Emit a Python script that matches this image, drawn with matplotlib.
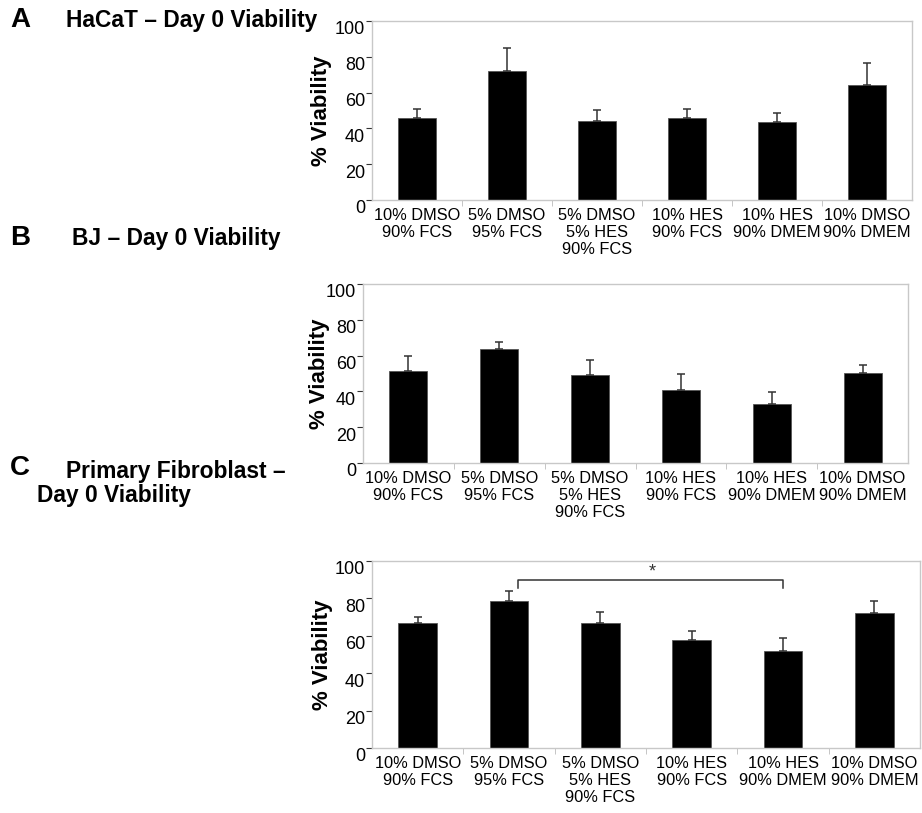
import matplotlib.pyplot as plt
import matplotlib.transforms as mtransforms
import numpy as np

plt.rcParams['font.family'] = ['Liberation Sans', 'DejaVu Sans']

categories = ['10% DMSO\n90% FCS', '5% DMSO\n95% FCS', '5% DMSO\n5% HES\n90% FCS',
              '10% HES\n90% FCS', '10% HES\n90% DMEM', '10% DMSO\n90% DMEM']

# panel A - HaCaT
hacat_mean = [45.6, 71.9, 44.1, 45.6, 43.8, 64.1]
hacat_err = [5.2, 13.0, 6.2, 5.4, 4.8, 12.4]
# panel B - BJ
bj_mean = [51.3, 63.6, 49.4, 41.0, 33.2, 50.0]
bj_err = [8.2, 3.9, 8.2, 8.8, 6.2, 4.5]
# panel C - primary fibroblast
fib_mean = [67.1, 78.8, 67.1, 58.0, 51.8, 72.1]
fib_err = [3.0, 5.4, 5.5, 4.6, 7.1, 6.7]

W, H = 922, 813
fig = plt.figure(figsize=(W / 100, H / 100), dpi=100)


def px_axes(x0, y0, x1, y1):
    return fig.add_axes([x0 / W, 1 - y1 / H, (x1 - x0) / W, (y1 - y0) / H])


def draw_panel(ax, means, errs, ylab_x):
    x = np.arange(len(categories))
    ax.bar(x, means, width=0.42, color='black', edgecolor='#555555', linewidth=0.6, zorder=2)
    ax.errorbar(x, means, yerr=[np.zeros(len(errs)), errs], fmt='none', ecolor='#333333',
                elinewidth=1.1, capsize=3, capthick=1.1, zorder=3)
    ax.set_xlim(-0.5, len(categories) - 0.5)
    ax.set_ylim(0, 100)
    ax.set_yticks([0, 20, 40, 60, 80, 100])
    ax.set_xticks(x)
    ax.set_xticklabels(categories, fontsize=11.8, linespacing=1.15)
    ax.set_xticks(x[:-1] + 0.5, minor=True)
    ax.tick_params(axis='x', which='major', length=0, pad=6)
    ax.tick_params(axis='x', which='minor', length=4, color='#bbbbbb')
    ax.tick_params(axis='y', length=4, color='#333333', labelsize=13, pad=1)
    for s in ax.spines.values():
        s.set_color('#c8c8c8')
        s.set_linewidth(1.0)
    off = mtransforms.ScaledTranslation(0, -5 / 72, fig.dpi_scale_trans)
    for lab in ax.get_yticklabels():
        lab.set_transform(lab.get_transform() + off)
    ax.set_ylabel('% Viability', fontsize=16, fontweight='bold', va='center')
    ax.yaxis.set_label_coords(ylab_x, 0.5)


axA = px_axes(372, 21, 912, 200)
draw_panel(axA, hacat_mean, hacat_err, -0.094)

axB = px_axes(363, 284, 908, 463)
draw_panel(axB, bj_mean, bj_err, -0.079)

axC = px_axes(372, 561, 920, 748)
draw_panel(axC, fib_mean, fib_err, -0.091)

# significance bracket in panel C
axC.plot([1.1, 1.1, 4.0, 4.0], [85.4, 90, 90, 85.4], color='#333333', lw=1.1, zorder=4)
axC.text(2.57, 89.5, '*', ha='center', va='bottom', fontsize=13, color='#333333')

# panel letters and titles
def ftext(x, y, s, size):
    fig.text(x / W, 1 - y / H, s, ha='left', va='center', fontsize=size, fontweight='bold')


ftext(10, 20, 'A', 20)
ftext(66, 21, 'HaCaT – Day 0 Viability', 16.4)
ftext(10, 238, 'B', 20)
ftext(72, 239, 'BJ – Day 0 Viability', 16.4)
ftext(10, 468, 'C', 20)
ftext(66, 471, 'Primary Fibroblast –', 16.4)
ftext(37, 495, 'Day 0 Viability', 16.4)

fig.savefig('out.png', dpi=100, facecolor='white')
